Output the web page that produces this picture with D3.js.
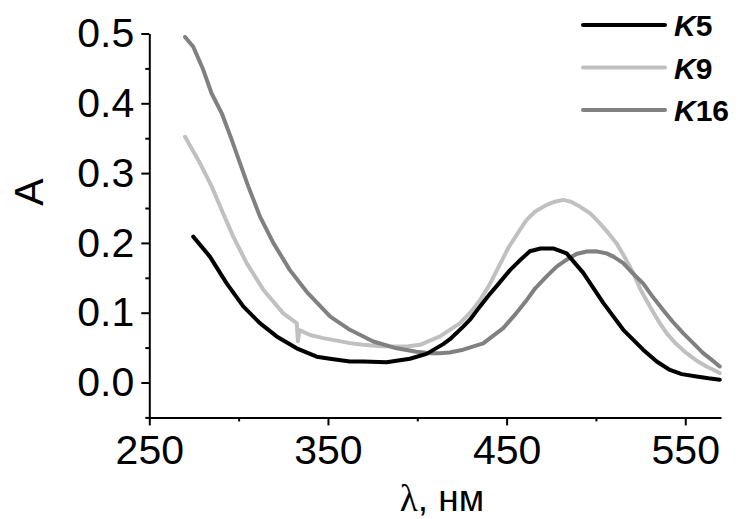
<!DOCTYPE html>
<html>
<head>
<meta charset="utf-8">
<script src="https://cdn.jsdelivr.net/npm/d3@7"></script>
<style>
  body { margin: 0; background: #fff; }
  svg { display: block; font-family: "Liberation Sans", Arial, sans-serif; }
</style>
</head>
<body>
<svg id="chart" width="739" height="519"></svg>
<script>
// Absorption spectra: [wavelength nm, absorbance]
const k5 = [
    [274.6, 0.209], [284, 0.180], [293.3, 0.142], [302.6, 0.109], [311.9, 0.085],
    [321.3, 0.066], [332.5, 0.049], [343.7, 0.037], [351.1, 0.034], [362.3, 0.030],
    [369.8, 0.030], [382.8, 0.029], [395.9, 0.034], [405.2, 0.041], [414.5, 0.055],
    [418.3, 0.062], [425.7, 0.080], [429.5, 0.090], [435.1, 0.109], [440.7, 0.127],
    [444.4, 0.138], [451.9, 0.161], [457, 0.174], [463, 0.188], [469, 0.192],
    [476.1, 0.192], [483.6, 0.185], [492.9, 0.157], [504.1, 0.114], [515.3, 0.0755],
    [526.4, 0.047], [534, 0.030], [541.4, 0.018], [548, 0.012], [556.3, 0.0086],
    [563, 0.006], [569.3, 0.004]
];
const k9 = [
    [270, 0.352], [278.4, 0.314], [284.9, 0.281], [290.5, 0.247], [297, 0.209],
    [304.5, 0.171], [313.8, 0.133], [325, 0.099], [332.5, 0.085], [333.2, 0.059],
    [334, 0.075], [340, 0.068], [347.4, 0.0636], [355, 0.060], [362.3, 0.0564],
    [369.8, 0.054], [380, 0.052], [388.4, 0.0516], [395, 0.052], [401.5, 0.054],
    [407.1, 0.060], [412.7, 0.066], [418, 0.075], [423.9, 0.085], [430, 0.101],
    [435.1, 0.118], [440, 0.138], [446, 0.168], [451, 0.193], [457.5, 0.219],
    [461.2, 0.233], [466, 0.245], [472.4, 0.2545], [477, 0.259], [481.7, 0.2616],
    [486, 0.259], [491, 0.252], [497, 0.242], [502.2, 0.228], [507, 0.214],
    [511.5, 0.1996], [516, 0.180], [520.9, 0.157], [525, 0.133], [530.2, 0.109],
    [535, 0.088], [539.5, 0.0707], [545, 0.055], [550.7, 0.042], [556, 0.032],
    [561.9, 0.023], [569.3, 0.0135]
];
const k16 = [
    [270, 0.495], [274.6, 0.481], [280.2, 0.448], [284.9, 0.414], [290.5, 0.386],
    [296.1, 0.348], [300.8, 0.314], [305.4, 0.281], [311.9, 0.238], [319.4, 0.200],
    [328.7, 0.161], [338.1, 0.130], [351.3, 0.0945], [362.3, 0.0755], [375.4, 0.0587],
    [388.4, 0.049], [399.6, 0.044], [407.1, 0.042], [412.7, 0.042], [418, 0.043],
    [425.7, 0.047], [436.9, 0.056], [448.1, 0.078], [455, 0.098], [461.2, 0.118],
    [466, 0.135], [472.4, 0.152], [478, 0.166], [483.6, 0.176], [489, 0.184],
    [494.8, 0.1876], [500, 0.188], [506, 0.185], [510, 0.180], [515.3, 0.171],
    [520, 0.158], [526.4, 0.142], [532, 0.122], [537.6, 0.104], [543, 0.087],
    [548.8, 0.0707], [555, 0.055], [560, 0.042], [565, 0.032], [569.3, 0.023]
];

const seriesNames = ['5', '9', '16'];
const seriesColors = ['#000000', '#c0c0c0', '#808080'];
const xTicks = [250, 350, 450, 550];
const xMinorTicks = [300, 400, 500];
const yTicks = [0.0, 0.1, 0.2, 0.3, 0.4, 0.5];
const yMinorTicks = [-0.05, 0.05, 0.15, 0.25, 0.35, 0.45];

const svg = d3.select('#chart');

// Plot area
const plot = { left: 149.3, right: 721, top: 33.5, bottom: 417.4 };

const x = d3.scaleLinear().domain([250, 570]).range([plot.left, plot.right]);
const y = d3.scaleLinear().domain([-0.05, 0.5]).range([plot.bottom, plot.top]);

// Minor ticks first (shorter)
svg.append('g')
    .attr('transform', `translate(0,${plot.bottom})`)
    .call(d3.axisBottom(x).tickValues(xMinorTicks).tickSize(4).tickFormat(''))
    .call(g => g.select('.domain').remove())
    .selectAll('line').attr('stroke-width', 2);

svg.append('g')
    .attr('transform', `translate(${plot.left},0)`)
    .call(d3.axisLeft(y).tickValues(yMinorTicks).tickSize(4).tickFormat(''))
    .call(g => g.select('.domain').remove())
    .selectAll('line').attr('stroke-width', 2);

// Major axes
const xAxis = svg.append('g')
    .attr('transform', `translate(0,${plot.bottom})`)
    .call(d3.axisBottom(x).tickValues(xTicks).tickSize(8).tickSizeOuter(0).tickPadding(9)
        .tickFormat(d3.format('d')));

const yAxis = svg.append('g')
    .attr('transform', `translate(${plot.left},0)`)
    .call(d3.axisLeft(y).tickValues(yTicks).tickSize(8).tickSizeOuter(0).tickPadding(7)
        .tickFormat(d3.format('.1f')));

[xAxis, yAxis].forEach(g => {
    g.select('.domain').attr('stroke-width', 2);
    g.selectAll('.tick line').attr('stroke-width', 2);
    g.selectAll('.tick text')
        .attr('font-family', '"Liberation Sans", Arial, sans-serif')
        .attr('font-size', 41)
        .attr('fill', '#000');
});

// Axis titles
svg.append('text')
    .attr('transform', 'translate(43,192) rotate(-90)')
    .attr('text-anchor', 'middle')
    .attr('font-size', 41)
    .text('A');

const xTitle = svg.append('text')
    .attr('x', 442)
    .attr('y', 511)
    .attr('text-anchor', 'middle')
    .attr('font-size', 37);
xTitle.append('tspan').attr('font-family', '"Liberation Serif", serif').text('λ');
xTitle.append('tspan').text(', нм');

// Spectra
const line = d3.line()
    .x(d => x(d[0]))
    .y(d => y(d[1]));

// light grey first, black last so it sits on top where they cross
[k9, k16, k5].forEach((data, i) => {
    const idx = [1, 2, 0][i];
    svg.append('path')
        .datum(data)
        .attr('fill', 'none')
        .attr('stroke', seriesColors[idx])
        .attr('stroke-width', 4)
        .attr('stroke-linejoin', 'round')
        .attr('stroke-linecap', 'round')
        .attr('d', line);
});

// Legend
const legend = svg.append('g');
seriesNames.forEach((name, i) => {
    const ly = 25 + i * 42.5;
    legend.append('line')
        .attr('x1', 583).attr('x2', 665)
        .attr('y1', ly).attr('y2', ly)
        .attr('stroke', seriesColors[i])
        .attr('stroke-width', 4)
        .attr('stroke-linecap', 'round');
    const t = legend.append('text')
        .attr('x', 674)
        .attr('y', ly + 11)
        .attr('font-size', 30)
        .attr('font-weight', 'bold');
    t.append('tspan').attr('font-style', 'italic').text('K');
    t.append('tspan').text(name);
});
</script>
</body>
</html>
